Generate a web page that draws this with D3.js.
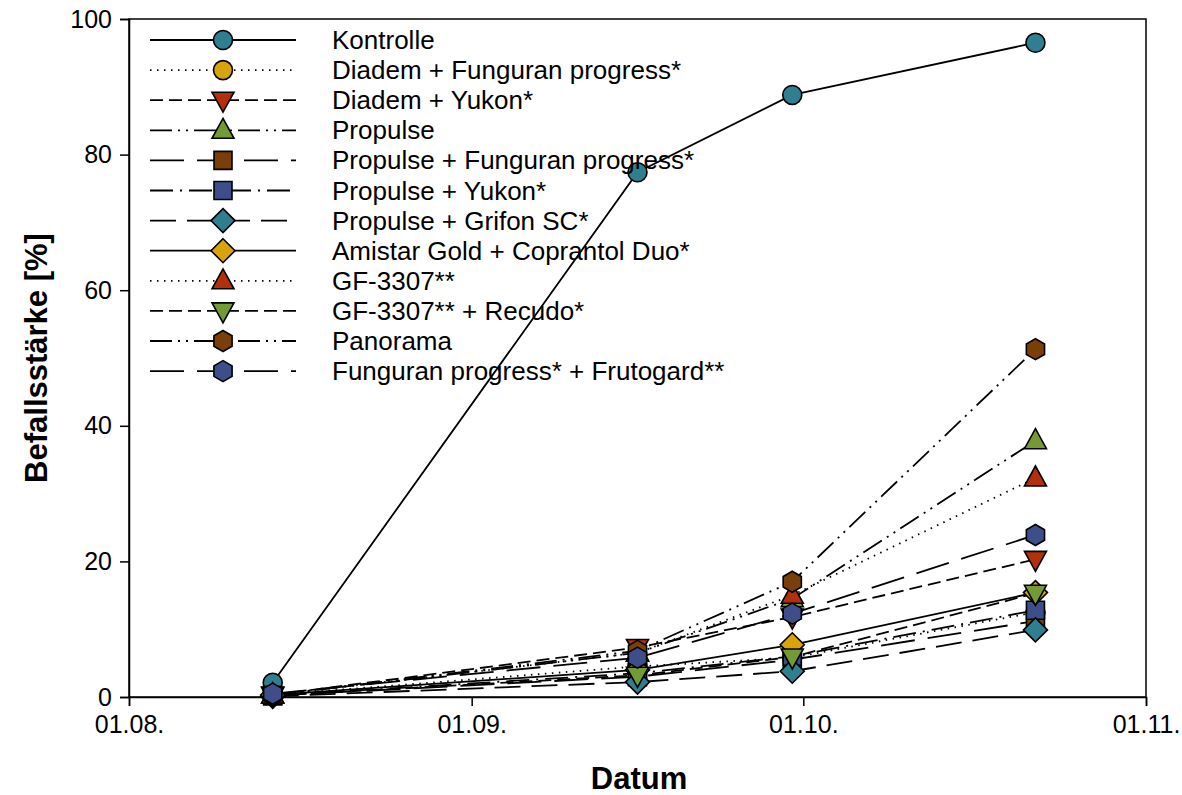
<!DOCTYPE html>
<html>
<head>
<meta charset="utf-8">
<script src="https://cdn.jsdelivr.net/npm/d3@7"></script>
<style>
  body { margin: 0; background: #fff; }
  svg text { font-family: "Liberation Sans", Arial, sans-serif; }
</style>
</head>
<body>
<div id="chart"></div>
<script>
// sampling dates (day.month.)
var dates = ["2020-08-14", "2020-09-16", "2020-09-30", "2020-10-22"];
var xTicks = ["2020-08-01", "2020-09-01", "2020-10-01", "2020-11-01"];
var yTicks = [0, 20, 40, 60, 80, 100];

var names = [
  "Kontrolle",
  "Diadem + Funguran progress*",
  "Diadem + Yukon*",
  "Propulse",
  "Propulse + Funguran progress*",
  "Propulse + Yukon*",
  "Propulse + Grifon SC*",
  "Amistar Gold + Coprantol Duo*",
  "GF-3307**",
  "GF-3307** + Recudo*",
  "Panorama",
  "Funguran progress* + Frutogard**"
];

var kontrolle = [2.1, 77.4, 88.8, 96.5];
var diademFunguran = [0.3, 4.5, 5.8, 12.5];
var diademYukon = [0.3, 7.3, 11.8, 20.3];
var propulse = [0.3, 6.5, 14.5, 37.8];
var propulseFunguran = [0.2, 3.0, 5.5, 11.2];
var propulseYukon = [0.2, 3.5, 6.0, 12.8];
var propulseGrifon = [0.1, 2.2, 3.8, 9.9];
var amistar = [0.3, 4.0, 7.7, 15.4];
var gf3307 = [0.3, 6.5, 15.0, 32.3];
var gf3307Recudo = [0.2, 3.2, 5.9, 15.3];
var panorama = [0.3, 6.8, 17.0, 51.3];
var funguranFrutogard = [0.5, 5.8, 12.3, 23.9];

var values = [kontrolle, diademFunguran, diademYukon, propulse, propulseFunguran,
  propulseYukon, propulseGrifon, amistar, gf3307, gf3307Recudo, panorama, funguranFrutogard];

// marker shape, fill, dash pattern per series
var shapes = ["circle", "circle", "down", "up", "square", "square", "diamond", "diamond", "up", "down", "hex", "hex"];
var teal = "#2f7f90", gold = "#d9a30c", red = "#b3300c", green = "#749a36", brown = "#7a3e0b", blue = "#3d4e8a";
var fills = [teal, gold, red, green, brown, blue, teal, gold, red, green, brown, blue];
var dashes = ["", "1.5,5.5", "13,6", "22,6,2,6,2,6", "34,13", "23,7,2,7", "26,11", "", "1.5,5.5", "13,6", "22,6,2,6,2,6", "34,13"];

var width = 1182, height = 795;
var plotL = 129, plotR = 1146, plotT = 19, plotB = 697;

var svg = d3.select("#chart").append("svg")
  .attr("width", width)
  .attr("height", height);

var parse = d3.utcParse("%Y-%m-%d");
var x = d3.scaleUtc()
  .domain([parse(xTicks[0]), parse(xTicks[3])])
  .range([plotL, plotR]);
var y = d3.scaleLinear()
  .domain([0, 100])
  .range([plotB, plotT]);

// frame
svg.append("rect")
  .attr("x", plotL).attr("y", plotT)
  .attr("width", plotR - plotL).attr("height", plotB - plotT)
  .attr("fill", "none").attr("stroke", "#000").attr("stroke-width", 1.5);

var xAxis = svg.append("g")
  .attr("transform", "translate(0," + plotB + ")")
  .call(d3.axisBottom(x)
    .tickValues(xTicks.map(parse))
    .tickFormat(d3.utcFormat("%d.%m."))
    .tickSize(9).tickPadding(9));
var yAxis = svg.append("g")
  .attr("transform", "translate(" + plotL + ",0)")
  .call(d3.axisLeft(y).tickValues(yTicks).tickSize(9).tickPadding(8));

[xAxis, yAxis].forEach(function(a) {
  a.select(".domain").attr("stroke-width", 1.5);
  a.selectAll(".tick line").attr("stroke-width", 1.5);
  a.selectAll("text")
    .attr("font-size", "25px")
    .attr("font-family", "Liberation Sans, Arial, sans-serif")
    .attr("fill", "#000");
});

svg.append("text")
  .attr("x", 639).attr("y", 789)
  .attr("text-anchor", "middle")
  .attr("font-size", "31px").attr("font-weight", "bold")
  .text("Datum");

svg.append("text")
  .attr("transform", "translate(47," + ((plotT + plotB) / 2) + ") rotate(-90)")
  .attr("text-anchor", "middle")
  .attr("font-size", "31px").attr("font-weight", "bold")
  .text("Befallsstärke [%]");

function markerPath(shape) {
  var p;
  if (shape == "circle") {
    return d3.symbol(d3.symbolCircle, Math.PI * 9.5 * 9.5)();
  } else if (shape == "up") {
    p = [[0, -12], [11, 8], [-11, 8]];
  } else if (shape == "down") {
    p = [[0, 12], [11, -8], [-11, -8]];
  } else if (shape == "square") {
    p = [[-9, -9], [9, -9], [9, 9], [-9, 9]];
  } else if (shape == "diamond") {
    p = [[0, -12], [12, 0], [0, 12], [-12, 0]];
  } else {
    p = [];
    for (var k = 0; k < 6; k++) {
      var a = Math.PI / 3 * k - Math.PI / 2;
      p.push([10.5 * Math.cos(a), 10.5 * Math.sin(a)]);
    }
  }
  return "M" + p.join("L") + "Z";
}

var line = d3.line()
  .x(function(d, i) { return x(parse(dates[i])); })
  .y(function(d) { return y(d); });

// series lines first, markers drawn per series after
values.forEach(function(vals, s) {
  svg.append("path")
    .attr("d", line(vals))
    .attr("fill", "none")
    .attr("stroke", "#000")
    .attr("stroke-width", 1.8)
    .attr("stroke-dasharray", dashes[s]);
});

values.forEach(function(vals, s) {
  svg.append("g").selectAll("path")
    .data(vals)
    .enter().append("path")
    .attr("d", markerPath(shapes[s]))
    .attr("transform", function(d, i) {
      return "translate(" + x(parse(dates[i])) + "," + y(d) + ")";
    })
    .attr("fill", fills[s])
    .attr("stroke", "#000")
    .attr("stroke-width", 1.6);
});

// legend
var legend = svg.append("g");
names.forEach(function(name, s) {
  var ly = 40 + s * 30.1;
  legend.append("line")
    .attr("x1", 150).attr("x2", 296)
    .attr("y1", ly).attr("y2", ly)
    .attr("stroke", "#000")
    .attr("stroke-width", 1.8)
    .attr("stroke-dasharray", dashes[s]);
  legend.append("path")
    .attr("d", markerPath(shapes[s]))
    .attr("transform", "translate(223," + ly + ")")
    .attr("fill", fills[s])
    .attr("stroke", "#000")
    .attr("stroke-width", 1.6);
  legend.append("text")
    .attr("x", 332).attr("y", ly + 9)
    .attr("font-size", "26px")
    .text(name);
});
</script>
</body>
</html>
